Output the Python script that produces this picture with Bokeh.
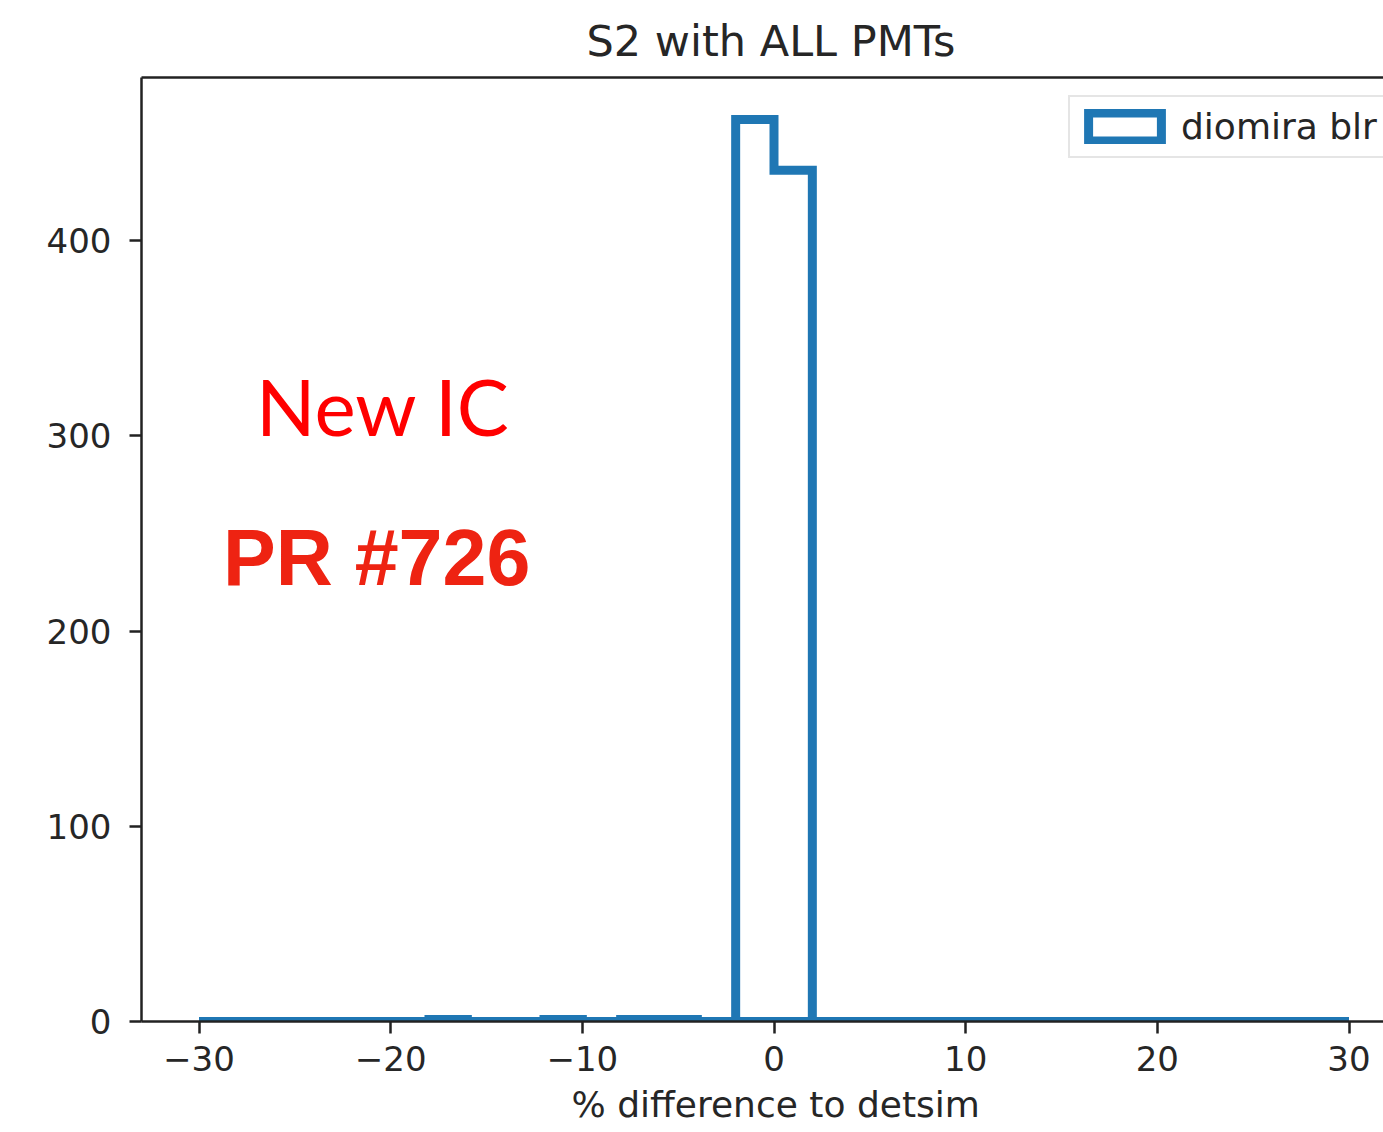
from bokeh.plotting import figure
from bokeh.models import Range1d, FixedTicker, LinearAxis, Label, Legend, LegendItem, Title
from bokeh.embed import file_html
from bokeh.resources import INLINE

# ---- data ----
bin_edges = [-30 + 2 * i for i in range(31)]
counts = [0, 0, 0, 0, 0, 0, 1, 0, 0, 1, 0, 1, 1, 0, 462, 436,
          0, 0, 0, 0, 0, 0, 0, 0, 0, 0, 0, 0, 0, 0]
series_name = "diomira blr"
x_ticks = [-30, -20, -10, 0, 10, 20, 30]
y_ticks = [0, 100, 200, 300, 400]
title_text = "S2 with ALL PMTs"
x_label = "% difference to detsim"
note1 = "New IC"
note2 = "PR #726"

# step outline (matplotlib histtype='step' style polygon)
xs = [bin_edges[0]]
ys = [0]
for i, c in enumerate(counts):
    xs += [bin_edges[i], bin_edges[i + 1]]
    ys += [c, c]
xs.append(bin_edges[-1])
ys.append(0)

BLUE = "#1f77b4"
TXT = "#262626"
FONT = "DejaVu Sans"

px_per_unit = 1150 / 60.0
frame_w = 1242
x_lo = -33.0
x_hi = x_lo + frame_w / px_per_unit

p = figure(frame_width=frame_w, frame_height=944,
           min_border_left=141, min_border_right=0, min_border_top=77, min_border_bottom=111,
           x_range=Range1d(x_lo, x_hi), y_range=Range1d(0, 483.5),
           output_backend="svg", toolbar_location=None, title=None)
p.background_fill_color = "white"
p.border_fill_color = "white"
p.outline_line_color = None
p.xgrid.visible = False
p.ygrid.visible = False

r = p.patch(xs, ys, fill_alpha=0, line_color=BLUE, line_width=9, line_join="miter")

for ax in (p.xaxis[0], p.yaxis[0]):
    ax.axis_line_width = 2.5
    ax.axis_line_color = "#222222"
    ax.major_tick_line_width = 2.5
    ax.major_tick_line_color = "#222222"
    ax.major_tick_out = 12
    ax.major_tick_in = 0
    ax.minor_tick_line_color = None
    ax.major_label_text_font = FONT
    ax.major_label_text_font_size = "34px"
    ax.major_label_text_color = TXT

p.xaxis.ticker = FixedTicker(ticks=x_ticks)
p.xaxis.major_label_overrides = {t: (str(t).replace("-", "\u2212")) for t in x_ticks}
p.xaxis.major_label_standoff = 12

p.yaxis.ticker = FixedTicker(ticks=y_ticks)
p.yaxis.major_label_standoff = 18

# x-axis label, centred on the full (cropped) axes as in the original figure
p.add_layout(Title(text=x_label, align="left", offset=430, text_font=FONT,
                   text_font_size="36px", text_font_style="normal",
                   text_color=TXT, standoff=16), "below")

top = LinearAxis(ticker=FixedTicker(ticks=[]), major_label_text_font_size="0px",
                 axis_line_width=2.5, axis_line_color="#222222",
                 major_tick_line_color=None, minor_tick_line_color=None)
p.add_layout(top, "above")

p.add_layout(Title(text=title_text, align="left", offset=445, text_font=FONT,
                   text_font_size="43px", text_font_style="normal",
                   text_color=TXT, standoff=24), "above")

p.add_layout(Label(x=-27.02, y=315.5, text=note1, text_font="Lato",
                   text_font_size="78px", text_color="#ff0000",
                   text_baseline="alphabetic", text_align="left"))
p.add_layout(Label(x=-28.75, y=237.6, text=note2, text_font="Liberation Sans",
                   text_font_size="79px", text_font_style="bold", text_color="#ee2312",
                   text_baseline="alphabetic", text_align="left"))

legend = Legend(items=[LegendItem(label=series_name, renderers=[r])],
                location=(927, 863), glyph_width=91, glyph_height=35,
                padding=9, label_standoff=11, label_text_font=FONT,
                label_text_font_size="36px", label_text_color=TXT,
                border_line_color="#cccccc", border_line_width=2,
                background_fill_color="white", background_fill_alpha=1)
p.add_layout(legend, "center")

open("out.html", "w").write(file_html(p, INLINE))
